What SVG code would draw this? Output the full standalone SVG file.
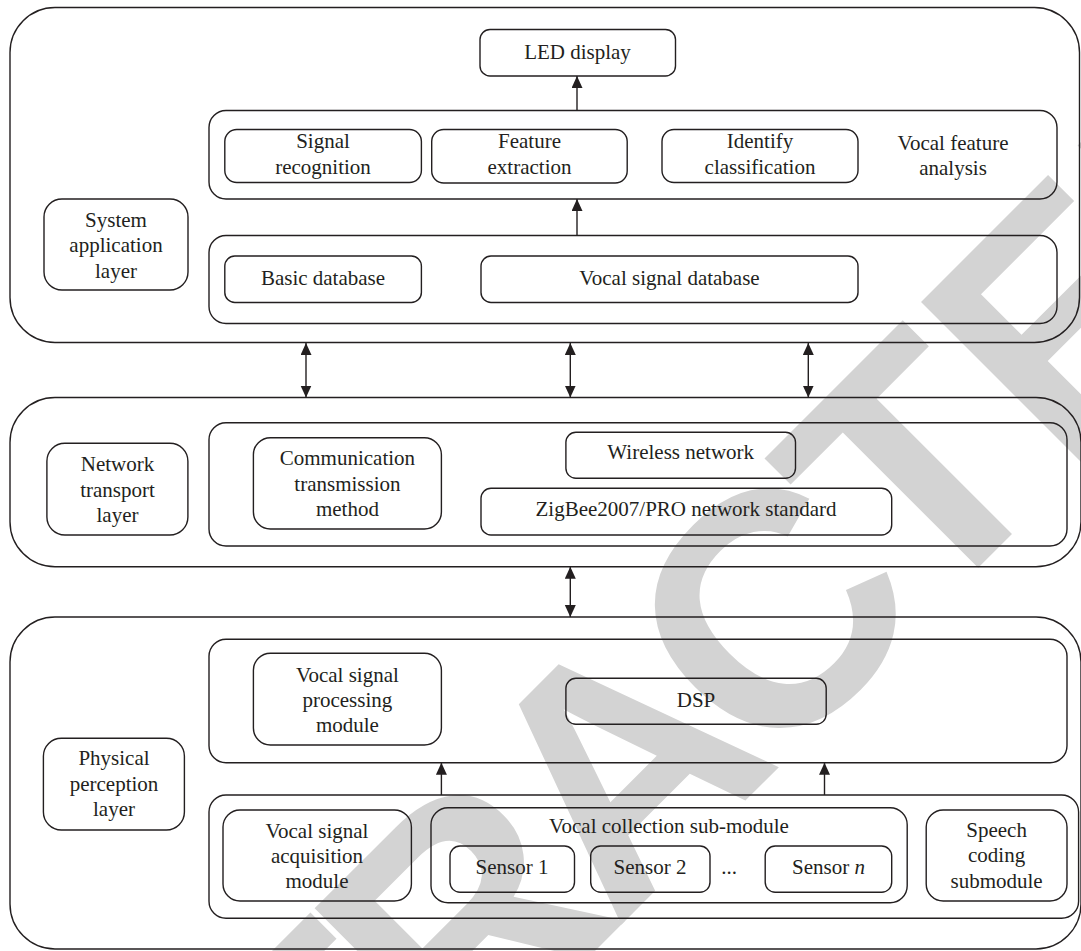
<svg xmlns="http://www.w3.org/2000/svg" width="1081" height="951" viewBox="0 0 1081 951">
<style>
.b{fill:none;stroke:#231f20;stroke-width:1.4}
.t{font-family:"Liberation Serif","Times New Roman",serif;font-size:21px;fill:#231f20;text-anchor:middle}
.c{stroke:#231f20;stroke-width:1.4;fill:none}
.wm{font-family:"Liberation Sans",Arial,sans-serif;font-weight:bold;font-size:332px;fill:#d3d3d3}
</style>
<defs>
<marker id="ah" markerUnits="userSpaceOnUse" markerWidth="13" markerHeight="12" refX="12" refY="5.5" orient="auto-start-reverse">
<path d="M0,0 L12,5.5 L0,11 z" fill="#231f20"/>
</marker>
</defs>
<rect width="1081" height="951" fill="#fff"/>
<text class="wm" transform="translate(995,551) rotate(-45)" x="-1360 -1140 -939 -756 -536.7 -322 -101.3 101.6 323" y="0">RETRACTED</text>

<g id="layer-application">
<rect class="b" x="10" y="7.5" width="1069.5" height="335" rx="45"/>
<g id="app-label"><rect class="b" x="44" y="199" width="144" height="91" rx="18"/>
<text class="t" x="116" y="226.5">System</text><text class="t" x="116" y="252">application</text><text class="t" x="116" y="277.5">layer</text></g>
<g id="led"><rect class="b" x="480" y="29.5" width="195.5" height="46.5" rx="10"/><text class="t" x="577.5" y="58.5">LED display</text></g>
<g id="vfa"><rect class="b" x="209" y="110.5" width="848" height="88.5" rx="17"/>
<text class="t" x="953" y="150">Vocal feature</text><text class="t" x="953" y="175">analysis</text></g>
<g id="sigrec"><rect class="b" x="224.8" y="129.5" width="196.6" height="53" rx="12"/><text class="t" x="323" y="147.5">Signal</text><text class="t" x="323" y="173.5">recognition</text></g>
<g id="featext"><rect class="b" x="431.7" y="129.5" width="195.5" height="53.5" rx="12"/><text class="t" x="529.5" y="147.5">Feature</text><text class="t" x="529.5" y="173.5">extraction</text></g>
<g id="idcls"><rect class="b" x="662" y="129.5" width="196" height="53" rx="12"/><text class="t" x="760" y="147.5">Identify</text><text class="t" x="760" y="173.5">classification</text></g>
<g id="db"><rect class="b" x="209" y="235.5" width="848" height="88" rx="17"/></g>
<g id="basicdb"><rect class="b" x="224.8" y="256" width="196.6" height="46.5" rx="10"/><text class="t" x="323" y="285">Basic database</text></g>
<g id="vsdb"><rect class="b" x="481" y="256" width="377" height="46.5" rx="10"/><text class="t" x="669.5" y="285">Vocal signal database</text></g>
</g>

<g id="layer-network">
<rect class="b" x="10" y="397.5" width="1071" height="169.2" rx="45"/>
<g id="net-label"><rect class="b" x="46.9" y="443.3" width="141" height="91.7" rx="18"/>
<text class="t" x="117.5" y="471">Network</text><text class="t" x="117.5" y="496.7">transport</text><text class="t" x="117.5" y="522">layer</text></g>
<g id="net-inner"><rect class="b" x="209" y="422.7" width="858" height="123.3" rx="17"/></g>
<g id="comm"><rect class="b" x="253.4" y="437.7" width="188" height="91.3" rx="17"/>
<text class="t" x="347.4" y="465">Communication</text><text class="t" x="347.4" y="490.7">transmission</text><text class="t" x="347.4" y="516">method</text></g>
<g id="wireless"><rect class="b" x="565.9" y="432.3" width="229.6" height="46" rx="10"/><text class="t" x="680.7" y="459.3">Wireless network</text></g>
<g id="zigbee"><rect class="b" x="481" y="488.3" width="410.7" height="46.7" rx="10"/><text class="t" x="686" y="516">ZigBee2007/PRO network standard</text></g>
</g>

<g id="layer-physical">
<rect class="b" x="10" y="617" width="1071" height="332" rx="45"/>
<g id="phy-label"><rect class="b" x="43.4" y="738.3" width="141" height="91.7" rx="18"/>
<text class="t" x="114" y="765">Physical</text><text class="t" x="114" y="791">perception</text><text class="t" x="114" y="816">layer</text></g>
<g id="phy-top"><rect class="b" x="209" y="639.3" width="858" height="123.4" rx="17"/></g>
<g id="vsproc"><rect class="b" x="253.4" y="653.3" width="188" height="91.7" rx="17"/>
<text class="t" x="347.4" y="681.7">Vocal signal</text><text class="t" x="347.4" y="707">processing</text><text class="t" x="347.4" y="732">module</text></g>
<g id="dsp"><rect class="b" x="565.9" y="678.3" width="260.3" height="46" rx="10"/><text class="t" x="696" y="706.7">DSP</text></g>
<g id="phy-bottom"><rect class="b" x="209" y="795" width="869.6" height="123.3" rx="17"/></g>
<g id="vsacq"><rect class="b" x="223" y="810" width="188.4" height="91" rx="17"/>
<text class="t" x="317" y="838.3">Vocal signal</text><text class="t" x="317" y="863.3">acquisition</text><text class="t" x="317" y="888.3">module</text></g>
<g id="collect"><rect class="b" x="431" y="807.7" width="476.2" height="95" rx="17"/><text class="t" x="669" y="833.3">Vocal collection sub-module</text></g>
<g id="s1"><rect class="b" x="450" y="846" width="124.5" height="46.3" rx="10"/><text class="t" x="512" y="874">Sensor 1</text></g>
<g id="s2"><rect class="b" x="590.7" y="846" width="119.3" height="46.3" rx="10"/><text class="t" x="650" y="874">Sensor 2</text></g>
<text class="t" x="729" y="874">...</text>
<g id="sn"><rect class="b" x="765.2" y="846" width="126.5" height="46.3" rx="10"/><text class="t" x="828.5" y="874">Sensor <tspan font-style="italic">n</tspan></text></g>
<g id="speech"><rect class="b" x="926.2" y="810" width="140.8" height="91" rx="17"/>
<text class="t" x="996.6" y="836.7">Speech</text><text class="t" x="996.6" y="862">coding</text><text class="t" x="996.6" y="888">submodule</text></g>
</g>

<g id="connectors">
<line class="c" x1="577" y1="110.5" x2="577" y2="76" marker-end="url(#ah)"/>
<line class="c" x1="577" y1="235.5" x2="577" y2="199" marker-end="url(#ah)"/>
<line class="c" x1="306" y1="343" x2="306" y2="397.5" marker-start="url(#ah)" marker-end="url(#ah)"/>
<line class="c" x1="570.3" y1="343" x2="570.3" y2="397.5" marker-start="url(#ah)" marker-end="url(#ah)"/>
<line class="c" x1="808.3" y1="343" x2="808.3" y2="397.5" marker-start="url(#ah)" marker-end="url(#ah)"/>
<line class="c" x1="570.3" y1="566.7" x2="570.3" y2="617" marker-start="url(#ah)" marker-end="url(#ah)"/>
<line class="c" x1="441.4" y1="795" x2="441.4" y2="762.7" marker-end="url(#ah)"/>
<line class="c" x1="824.5" y1="795" x2="824.5" y2="762.7" marker-end="url(#ah)"/>
</g>
</svg>
